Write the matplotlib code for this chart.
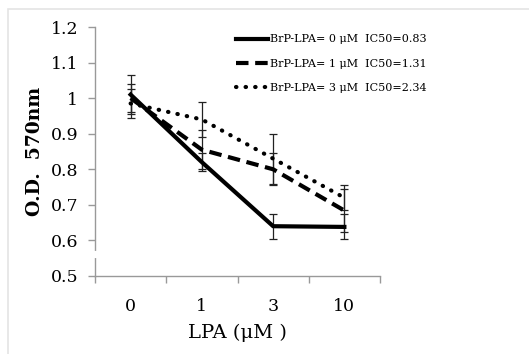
import numpy as np
import matplotlib
matplotlib.use("Agg")
import matplotlib.pyplot as plt
from matplotlib.patches import Rectangle

plt.rcParams['font.family'] = ['DejaVu Serif']

lpa = ['0', '1', '3', '10']
od_0 = [1.01, 0.82, 0.64, 0.638]
err_0 = [0.055, 0.025, 0.035, 0.035]
od_1 = [1.0, 0.855, 0.80, 0.684]
err_1 = [0.04, 0.055, 0.045, 0.06]
od_3 = [0.985, 0.94, 0.83, 0.72]
err_3 = [0.04, 0.05, 0.07, 0.035]
labels = ['BrP-LPA= 0 μM  IC50=0.83',
          'BrP-LPA= 1 μM  IC50=1.31',
          'BrP-LPA= 3 μM  IC50=2.34']

fig = plt.figure(figsize=(5.29, 3.54), dpi=100)
ax = fig.add_axes([95/529, 1-276/354, 285/529, 249/354])
x = np.arange(len(lpa))

styles = [dict(ls='-', lw=3.0),
          dict(ls=(0, (3, 1.6)), lw=3.0),
          dict(ls=(0, (0.1, 2.2)), lw=3.0, dash_capstyle='round')]
series = [(od_0, err_0), (od_1, err_1), (od_3, err_3)]
handles = []
for (y, e), st, lab in zip(series, styles, labels):
    ax.errorbar(x, y, yerr=e, fmt='none', ecolor='#222222', elinewidth=0.9,
                capsize=2.9, capthick=0.9, zorder=2)
    h, = ax.plot(x, y, color='black', label=lab, zorder=3, **st)
    handles.append(h)

ax.set_xlim(-0.5, 3.5)
ax.set_ylim(0.5, 1.2)
ax.set_xticks(x)
ax.set_xticklabels(lpa)
ax.set_xticks(np.arange(-0.5, 4, 1), minor=True)
ax.tick_params(axis='x', which='major', length=0, pad=16, labelsize=12.5)
ax.tick_params(axis='x', which='minor', length=5, color='#999999', width=1)
yt = np.round(np.arange(0.5, 1.21, 0.1), 1)
ax.set_yticks(yt)
ax.set_yticklabels(['1' if v == 1.0 else f'{v:g}' for v in yt])
ax.tick_params(axis='y', length=5, color='#999999', width=1, pad=7,
               labelsize=12.5)
for s in ['top', 'right']:
    ax.spines[s].set_visible(False)
for s in ['left', 'bottom']:
    ax.spines[s].set_color('#999999')
    ax.spines[s].set_linewidth(1)

# axis break between 0.5 and 0.6
ax.plot([0, 0], [0.555, 0.565], transform=ax.get_yaxis_transform(),
        color='white', lw=3, clip_on=False, zorder=5)

ax.set_ylabel('O.D.  570nm', fontsize=13.5, fontweight='bold', labelpad=5)
ax.set_xlabel('LPA (μM )', fontsize=14, labelpad=6)

ax.legend(handles=handles, loc='upper left', bbox_to_anchor=(0.495, 0.97),
          frameon=False, fontsize=8, handlelength=2.9, handletextpad=0.15,
          labelspacing=1.3, borderaxespad=0, borderpad=0)

fig.add_artist(Rectangle((8/529, -0.1), 1.2, 1.1 - 9.5/354, fill=False,
                         edgecolor='#e4e4e4', lw=1.2,
                         transform=fig.transFigure))

fig.savefig('out.png', dpi=100)
